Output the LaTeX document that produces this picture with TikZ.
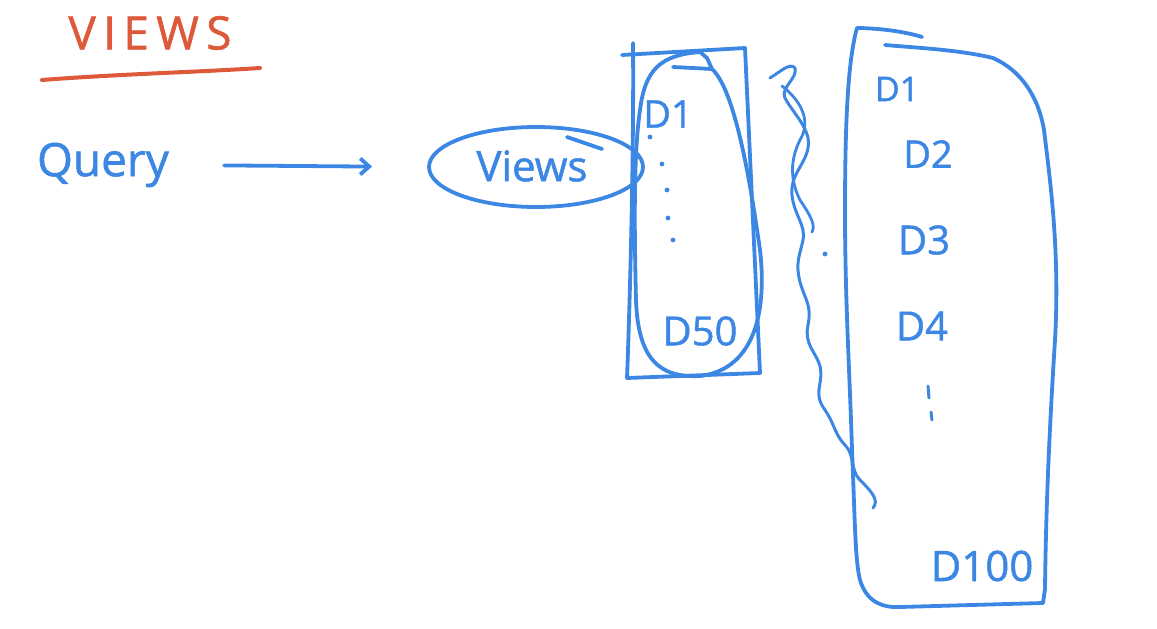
\documentclass[tikz,border=0pt]{standalone}
\usepackage{fontspec}
\setmainfont{Open Sans}[FakeBold=1.2]
\usetikzlibrary{shapes.geometric,arrows.meta}
\definecolor{pen}{RGB}{60,135,228}
\definecolor{redpen}{RGB}{222,88,58}
\tikzset{
  hand/.style={draw=pen, line width=3.8pt, line cap=round, line join=round},
  lbl/.style={text=pen, inner sep=0pt, font=\fontsize{#1}{#1}\selectfont},
  lbl/.default=34,
}
\begin{document}
\begin{tikzpicture}[x=1pt,y=-1pt]
\useasboundingbox (0,0) rectangle (1157,629);
% title
\node[inner sep=0pt, text=redpen, font={\fontsize{46}{46}\selectfont\addfontfeatures{LetterSpace=16}}] (title) at (150,33) {VIEWS};
\coordinate (ul1) at (42,80);
\draw[draw=redpen, line width=4pt, line cap=round] (ul1) .. controls (120,74) and (200,72) .. (260,68);
% query + arrow
\node[lbl=46] (query) at (103,165) {Query};
\node[hand, ellipse, minimum width=214pt, minimum height=80pt, inner sep=0pt] (views) at (536,167) {};
\node[lbl=42] (viewstxt) at (532,166) {Views};
\draw[hand, -{Straight Barb[length=9pt,width=16pt]}, shorten <=55pt, shorten >=55pt] (query.east) -- (views.west);
\draw[hand] (567,137) -- (602,149);
% left box
\draw[hand] (633,43) .. controls (634,150) and (630,300) .. (627,378)
  -- (760,373) -- (745,48) -- (622,55);
\draw[hand] (673,67) -- (712,69) .. controls (735,90) and (750,180) .. (760,250)
  .. controls (768,320) and (750,370) .. (700,376)
  .. controls (660,378) and (638,360) .. (636,300)
  .. controls (634,220) and (634,150) .. (640,110)
  .. controls (645,70) and (660,55) .. (700,52) -- (707,58) -- (712,69);
\node[lbl=38] (d1a) at (668,114) {D1};
\node[lbl=40] (d50a) at (700,331) {D50};
\foreach \a/\b in {650/137, 662/164, 667/190, 668/218, 673/240}
  \fill[pen] (\a,\b) circle (2.4pt);
% wavy cut line
\draw[hand, line width=3pt] (770,78) .. controls (780,72) and (790,62) .. (795,68)
  .. controls (798,78) and (780,88) .. (785,98)
  .. controls (792,112) and (812,130) .. (808,148)
  .. controls (805,165) and (790,175) .. (792,195)
  .. controls (794,215) and (806,225) .. (803,240)
  .. controls (800,255) and (795,262) .. (800,282)
  .. controls (805,300) and (812,305) .. (808,325)
  .. controls (804,345) and (816,352) .. (820,366)
  .. controls (824,385) and (812,392) .. (825,410)
  .. controls (835,425) and (835,435) .. (845,445)
  .. controls (855,455) and (850,470) .. (860,480)
  .. controls (870,490) and (880,500) .. (873,508);
\draw[hand, line width=2.8pt] (782,86) .. controls (800,100) and (812,120) .. (800,140)
  .. controls (790,160) and (790,180) .. (800,200)
  .. controls (810,215) and (816,225) .. (812,232);
\fill[pen] (825,254) circle (2.4pt);
% right box
\draw[hand] (922,37) .. controls (900,30) and (870,28) .. (857,28)
  .. controls (848,60) and (845,120) .. (845,212)
  .. controls (845,300) and (850,380) .. (852,450)
  .. controls (855,520) and (855,560) .. (860,580)
  .. controls (866,600) and (880,608) .. (900,607)
  -- (1043,603) -- (1045,589)
  .. controls (1046,500) and (1050,420) .. (1055,340)
  .. controls (1060,250) and (1050,180) .. (1044,130)
  .. controls (1038,95) and (1020,70) .. (993,58)
  .. controls (960,50) and (920,48) .. (885,45);
\node[lbl=34] (r1) at (897,89) {D1};
\node[lbl=38] (r2) at (928,154) {D2};
\node[lbl=40] (r3) at (924,240) {D3};
\node[lbl=40] (r4) at (922,326) {D4};
\node[lbl=42] (r100) at (982,566) {D100};
\draw[hand, line width=3pt] (928,386) -- (929,398);
\draw[hand, line width=3pt] (931,412) -- (932,420);
\end{tikzpicture}
\end{document}
